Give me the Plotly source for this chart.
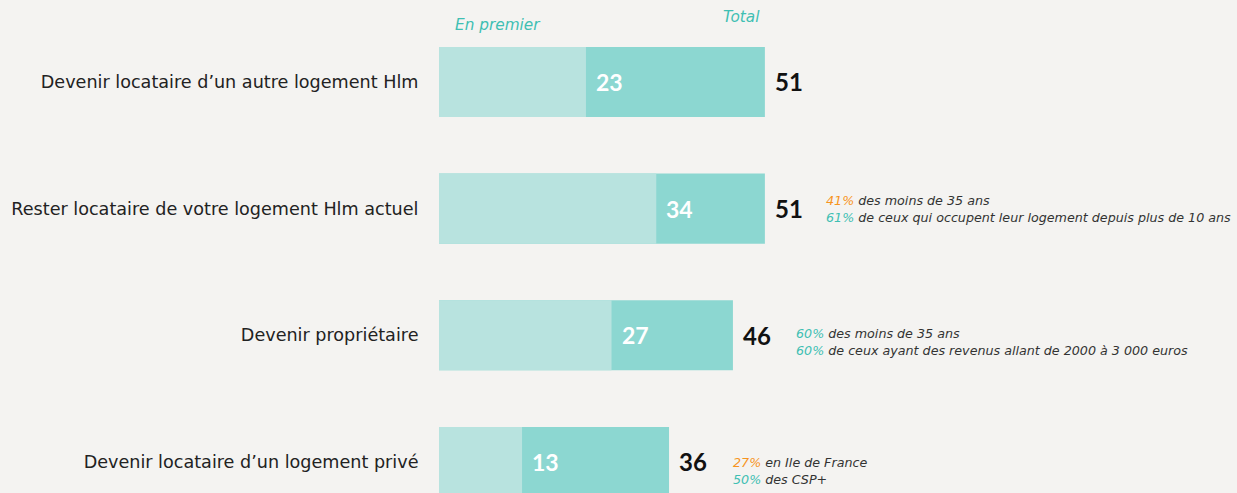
import plotly.graph_objects as go

# Survey answers, shown top to bottom
categories = [
    "Devenir locataire d’un autre logement Hlm",
    "Rester locataire de votre logement Hlm actuel",
    "Devenir propriétaire",
    "Devenir locataire d’un logement privé",
]
en_premier = [23, 34, 27, 13]
total = [51, 51, 46, 36]

# Side notes: highlighted percentage + wording, two lines per answer
note_pct = [None, ["41%", "61%"], ["60%", "60%"], ["27%", "50%"]]
note_text = [
    None,
    ["des moins de 35 ans", "de ceux qui occupent leur logement depuis plus de 10 ans"],
    ["des moins de 35 ans", "de ceux ayant des revenus allant de 2000 à 3 000 euros"],
    ["en Ile de France", "des CSP+"],
]
note_pct_kind = [None, ["orange", "teal"], ["teal", "teal"], ["orange", "teal"]]
note_yshift = [0, 0, -7, -9]
note_xshift = [0, 59, 61, 62]

BG = "#f4f3f1"
LIGHT = "#b8e3df"
DARK = "#8cd7d1"
TEAL_TXT = "#3fbfb3"
ORANGE = "#f7941d"
FONT = "DejaVu Sans"
NUM_FONT = "Lato"
PX_PER_UNIT = 6.39

ypos = list(range(len(categories)))

fig = go.Figure()
# total bar underneath, "en premier" bar drawn over it
fig.add_trace(go.Bar(
    y=ypos, x=total, orientation="h", width=0.553,
    marker=dict(color=DARK, line=dict(width=0)), name="Total",
    hoverinfo="skip",
))
fig.add_trace(go.Bar(
    y=ypos, x=en_premier, orientation="h", width=0.553,
    marker=dict(color=LIGHT, line=dict(width=0)), name="En premier",
    hoverinfo="skip",
))

annotations = []
for i in ypos:
    annotations.append(dict(
        x=en_premier[i], y=i, xref="x", yref="y", xanchor="left", yanchor="middle",
        xshift=8, text=f"<b>{en_premier[i]}</b>", showarrow=False,
        font=dict(family=NUM_FONT, size=23, color="white"),
    ))
    annotations.append(dict(
        x=total[i], y=i, xref="x", yref="y", xanchor="left", yanchor="middle",
        xshift=8, text=f"<b>{total[i]}</b>", showarrow=False,
        font=dict(family=NUM_FONT, size=24, color="#111111"),
    ))
    if note_pct[i]:
        lines = []
        for pct, txt, kind in zip(note_pct[i], note_text[i], note_pct_kind[i]):
            c = ORANGE if kind == "orange" else TEAL_TXT
            lines.append(f"<span style='color:{c}'>{pct}</span> {txt}")
        annotations.append(dict(
            x=total[i], y=i, xref="x", yref="y", xanchor="left", yanchor="middle",
            xshift=note_xshift[i], yshift=note_yshift[i], align="left",
            text="<i>" + "<br>".join(lines) + "</i>",
            showarrow=False, font=dict(family=FONT, size=12.7, color="#333333"),
        ))

# column headers
annotations.append(dict(
    x=0.074, y=0.949, xref="paper", yref="paper", xanchor="center", yanchor="middle",
    text="<i>En premier</i>", showarrow=False,
    font=dict(family=FONT, size=15.3, color=TEAL_TXT),
))
annotations.append(dict(
    x=0.379, y=0.9655, xref="paper", yref="paper", xanchor="center", yanchor="middle",
    text="<i>Total</i>", showarrow=False,
    font=dict(family=FONT, size=15.3, color=TEAL_TXT),
))

fig.update_layout(
    width=1237, height=493,
    margin=dict(l=439, r=0, t=0, b=0),
    paper_bgcolor=BG, plot_bgcolor=BG,
    barmode="overlay", showlegend=False,
    annotations=annotations,
    xaxis=dict(range=[0, 798 / PX_PER_UNIT], visible=False, fixedrange=True),
    yaxis=dict(
        range=[3.245, -0.647], tickvals=ypos, ticktext=categories,
        showgrid=False, zeroline=False, showline=False,
        ticks="outside", ticklen=16, tickcolor="rgba(0,0,0,0)",
        tickfont=dict(family=FONT, size=17.6, color="#222222"),
        fixedrange=True,
    ),
)

fig.write_html("out.html")
